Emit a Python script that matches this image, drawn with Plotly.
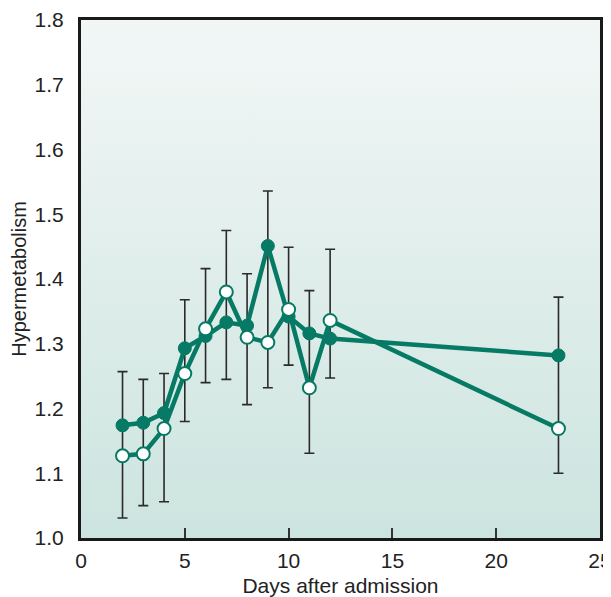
import plotly.graph_objects as go

days = [2, 3, 4, 5, 6, 7, 8, 9, 10, 11, 12, 23]
closed_vals = [1.174, 1.178, 1.193, 1.293, 1.312, 1.333, 1.328, 1.451, 1.342, 1.316, 1.308, 1.282]
open_vals = [1.127, 1.130, 1.169, 1.254, 1.323, 1.380, 1.310, 1.302, 1.353, 1.232, 1.336, 1.169]
err_high = [1.257, 1.245, 1.254, 1.368, 1.416, 1.475, 1.408, 1.536, 1.449, 1.382, 1.446, 1.372]
err_low = [1.031, 1.050, 1.056, 1.180, 1.240, 1.245, 1.206, 1.232, 1.267, 1.131, 1.247, 1.100]

x_ticks = [0, 5, 10, 15, 20, 25]
y_ticks = [1.0, 1.1, 1.2, 1.3, 1.4, 1.5, 1.6, 1.7, 1.8]

teal = "#067a64"
font_family = "Liberation Sans, Arial, sans-serif"

fig = go.Figure()

# gradient background
fig.add_trace(go.Scatter(
    x=[0, 25, 25, 0, 0], y=[1.0, 1.0, 1.8, 1.8, 1.0],
    mode="lines", line=dict(width=0), fill="toself",
    fillgradient=dict(type="vertical",
                      colorscale=[[0, "#cce4df"], [1, "#f2f7f6"]]),
    hoverinfo="skip", showlegend=False))

# error bars
fig.add_trace(go.Scatter(
    x=days, y=err_low, mode="markers",
    marker=dict(size=1, opacity=0),
    error_y=dict(type="data", symmetric=False,
                 array=[h - l for h, l in zip(err_high, err_low)],
                 arrayminus=[0] * len(days),
                 color="#2a2a2a", thickness=1.6, width=5),
    hoverinfo="skip", showlegend=False))

fig.add_trace(go.Scatter(
    x=days, y=closed_vals, mode="lines+markers",
    line=dict(color=teal, width=4.5),
    marker=dict(size=13, color=teal, line=dict(color=teal, width=1)),
    showlegend=False))

fig.add_trace(go.Scatter(
    x=days, y=open_vals, mode="lines+markers",
    line=dict(color=teal, width=4.5),
    marker=dict(size=13, color="white", line=dict(color=teal, width=2)),
    showlegend=False))

# page body has an 8px default margin, so the figure is sized to fit
fig.update_layout(
    width=603, height=589,
    margin=dict(l=73, r=11, t=12, b=59),
    paper_bgcolor="white", plot_bgcolor="white",
    font=dict(family=font_family, size=21, color="#222"),
)
fig.update_xaxes(
    range=[0, 25], tickvals=x_ticks, ticks="inside", ticklen=10,
    tickwidth=1.5, tickcolor="#333",
    showgrid=False, zeroline=False, automargin=False,
    showline=True, mirror=True, linecolor="#1a1a1a", linewidth=3,
    ticklabelstandoff=2, ticklabeloverflow="allow",
    title=dict(text="Days after admission", standoff=9, font=dict(size=21)),
    tickfont=dict(size=21),
)
fig.update_yaxes(
    range=[1.0, 1.8], tickvals=y_ticks, ticktext=[f"{v:.1f}" for v in y_ticks],
    ticks="", showgrid=True, gridcolor="#333", griddash="dot", gridwidth=1.6,
    zeroline=False, automargin=False,
    showline=True, mirror=True, linecolor="#1a1a1a", linewidth=3,
    ticklabelstandoff=10,
    title=dict(text="Hypermetabolism", standoff=11, font=dict(size=20)),
    tickfont=dict(size=21),
)

fig.write_html("out.html")
